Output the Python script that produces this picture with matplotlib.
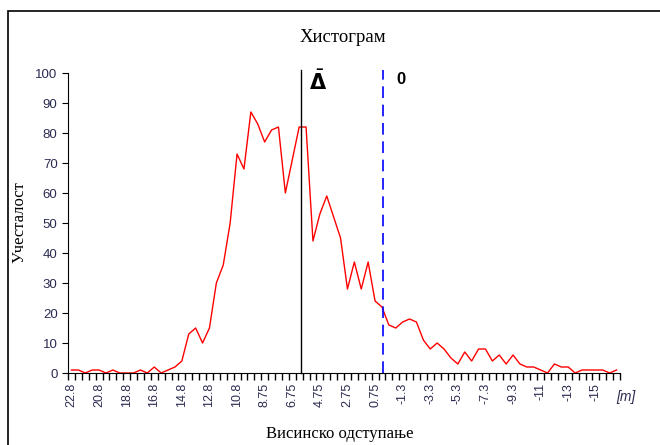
import matplotlib
matplotlib.use("Agg")
import matplotlib.pyplot as plt
import numpy as np
from matplotlib.patches import Rectangle

# bin centres (m) and counts
bins = [22.75 - 0.5 * i for i in range(80)]
counts = [1, 1, 0, 1, 1, 0, 1, 0, 0, 0,
          1, 0, 2, 0, 1, 2, 4, 13, 15, 10,
          15, 30, 36, 50, 73, 68, 87, 83, 77, 81,
          82, 60, 71, 82, 82, 44, 53, 59, 52, 45,
          28, 37, 28, 37, 24, 22, 16, 15, 17, 18,
          17, 11, 8, 10, 8, 5, 3, 7, 4, 8,
          8, 4, 6, 3, 6, 3, 2, 2, 1, 0,
          3, 2, 2, 0, 1, 1, 1, 1, 0, 1]
tick_labels = ["22.8", "20.8", "18.8", "16.8", "14.8", "12.8", "10.8", "8.75",
               "6.75", "4.75", "2.75", "0.75", "-1.3", "-3.3", "-5.3", "-7.3",
               "-9.3", "-11", "-13", "-15"]
mean_pos = 33.2   # category position of the mean line
zero_pos = 45.1   # category position of the zero line

serif = "Liberation Serif"
sans = "Liberation Sans"
tick_color = "#2a2a50"

fig = plt.figure(figsize=(6.6, 4.45), dpi=100)
# chart-area border, cut off by the right and bottom edges of the image
fig.patches.append(Rectangle((8 / 660, -0.1), 1, 1.1 - 11 / 445, transform=fig.transFigure,
                             fill=False, edgecolor="black", linewidth=1.2))

ax = fig.add_axes([68 / 660, 72 / 445, 552 / 660, 300 / 445])
x = np.arange(len(counts))
ax.plot(x, counts, color="red", linewidth=1.0)

ax.axvline(mean_pos, color="black", linewidth=1.0, ymax=1.01, clip_on=False)
ax.axvline(zero_pos, color="#0000ff", linewidth=1.2, linestyle=(0, (7, 4)),
           ymax=1.01, clip_on=False)

ax.set_xlim(-0.5, len(counts) - 0.5)
ax.set_ylim(0, 100)

ax.set_xticks(np.arange(-0.5, len(counts), 1.0))
ax.set_xticklabels([])
ax.tick_params(axis="x", which="major", direction="out", length=5, width=1)
ax.set_xticks(np.arange(0, len(counts), 4), minor=True)
ax.set_xticklabels(tick_labels, minor=True, rotation=90, fontsize=9,
                   family=sans, color=tick_color)
ax.tick_params(axis="x", which="minor", length=0, pad=7)

ax.set_yticks(np.arange(0, 101, 10))
ax.tick_params(axis="y", direction="out", length=4, labelsize=9.5, labelcolor=tick_color)
for lbl in ax.get_yticklabels():
    lbl.set_family(sans)

for s in ["top", "right"]:
    ax.spines[s].set_visible(False)

fig.text(343 / 660, 1 - 37 / 445, "Хистограм", ha="center", va="center",
         fontsize=13.5, family=serif)
fig.text(20 / 660, 1 - 222 / 445, "Учесталост", ha="center", va="center",
         rotation=90, fontsize=12, family=serif)
fig.text(340 / 660, 1 - 434 / 445, "Висинско одступање", ha="center", va="center",
         fontsize=12, family=serif)
fig.text(626 / 660, 1 - 397 / 445, "[m]", ha="center", va="center",
         fontsize=10, style="italic", family=sans, color=tick_color)

ax.text(mean_pos + 2.5, 97, r"$\bar{\mathbf{\Delta}}$", ha="center", va="center",
        fontsize=15)
ax.text(zero_pos + 2.6, 98, "0", ha="center", va="center", fontsize=12,
        fontweight="bold", family=sans)

fig.savefig("out.png", dpi=100)
